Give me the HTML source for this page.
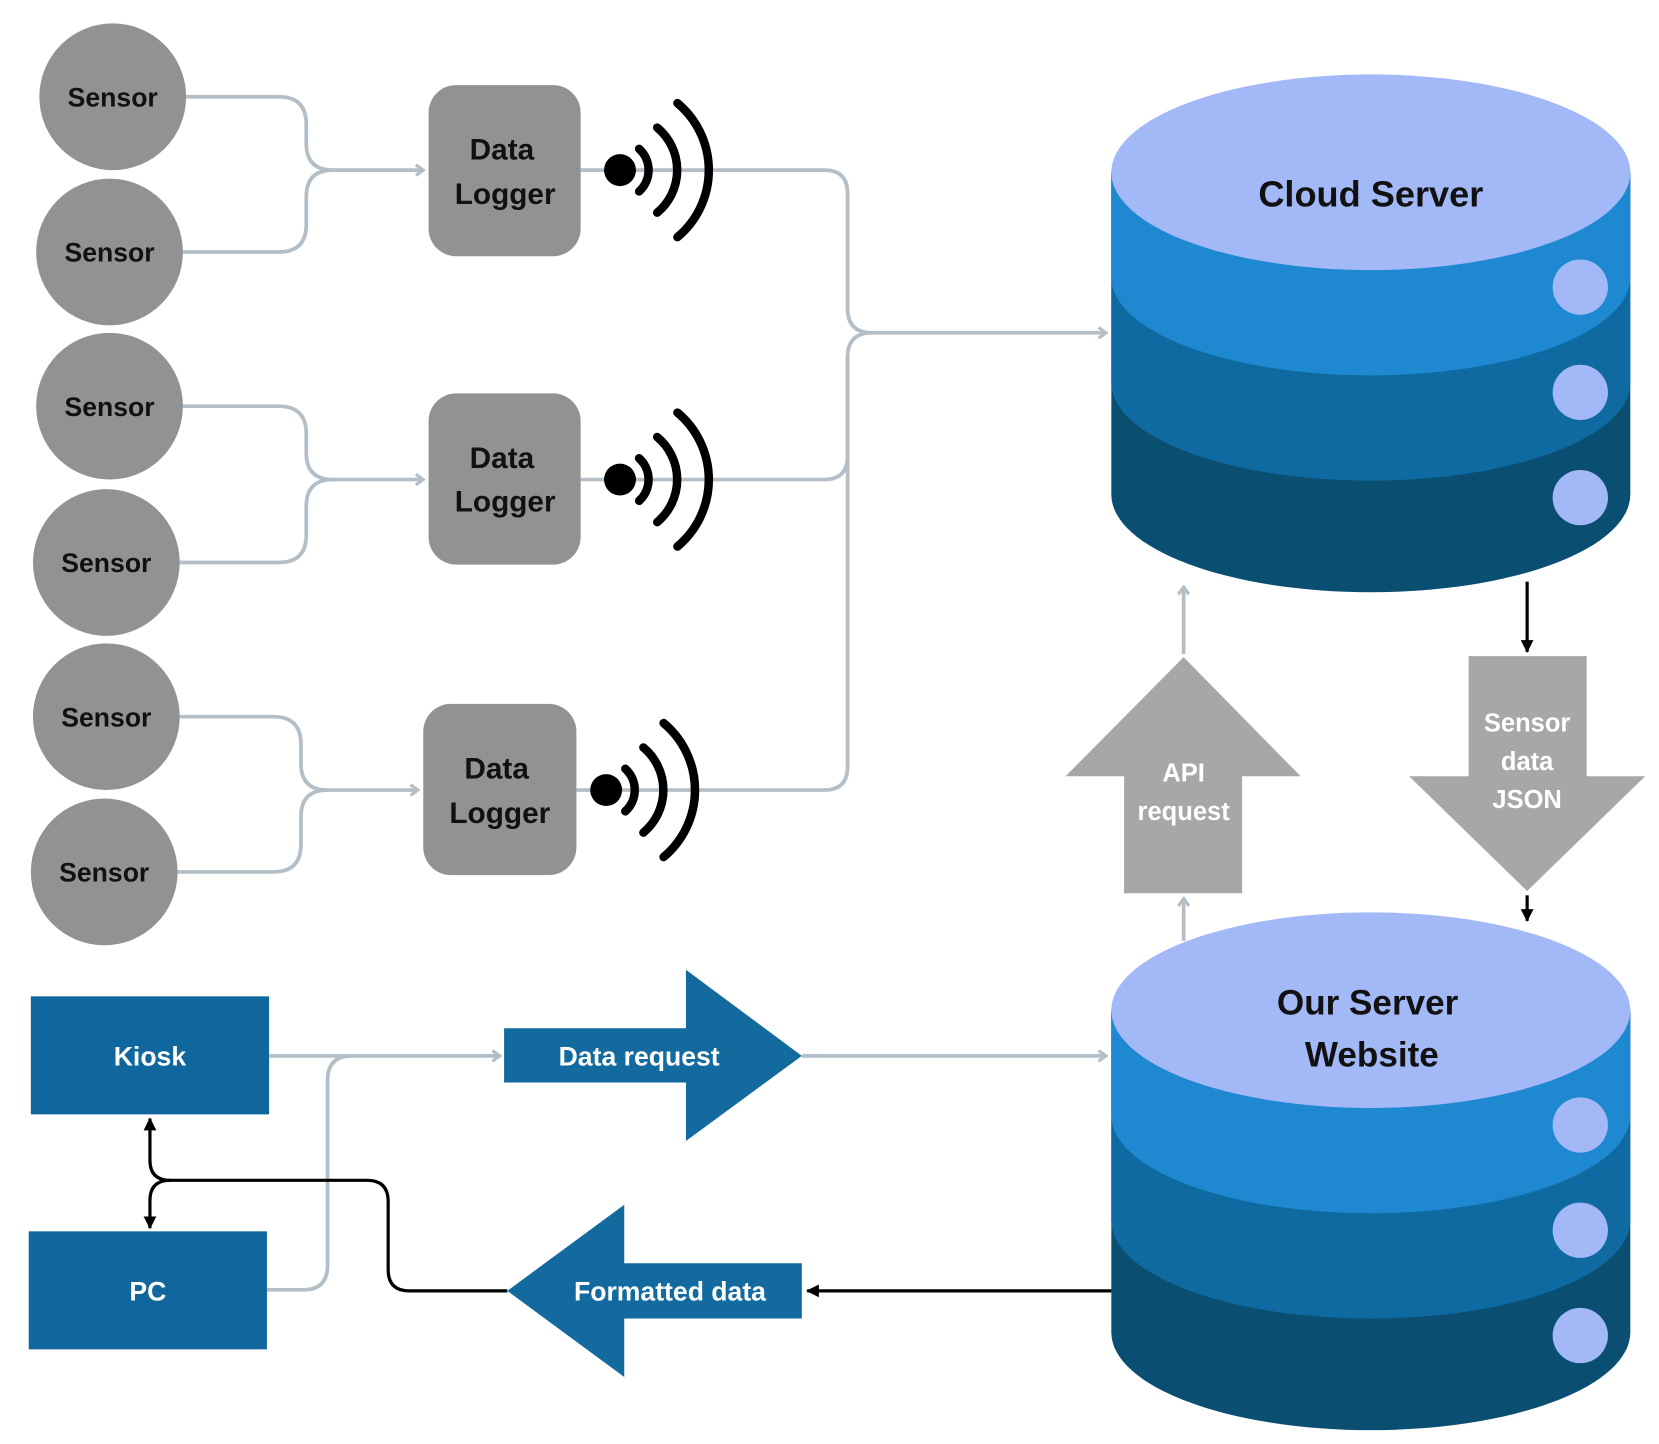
<!DOCTYPE html>
<html><head><meta charset="utf-8"><style>
html,body{margin:0;padding:0;background:#fff;}
svg{display:block;}
text{font-family:"Liberation Sans",sans-serif;font-weight:bold;}
</style></head><body>
<svg width="1659" height="1444" viewBox="0 0 1560 1358" preserveAspectRatio="none" xmlns="http://www.w3.org/2000/svg">
<defs>
<marker id="ag" markerWidth="10" markerHeight="12" refX="8" refY="6" orient="auto" markerUnits="userSpaceOnUse"><path d="M1,1 L8,6 L1,11" fill="none" stroke="#b3bec6" stroke-width="3"/></marker>
<marker id="ab" markerWidth="14" markerHeight="14" refX="11" refY="7" orient="auto" markerUnits="userSpaceOnUse"><path d="M0,1 L12,7 L0,13 Z" fill="#000"/></marker>
</defs>
<rect width="1560" height="1358" fill="#fff"/>
<g fill="none" stroke="#b3bec6" stroke-width="3.5">
<path d="M175,91 H262 Q288,91 288,117 V135 Q288,160 313,160 H398" marker-end="url(#ag)"/>
<path d="M172,237 H262 Q288,237 288,211 V185 Q288,160 313,160"/>
<path d="M172,382 H262 Q288,382 288,408 V426 Q288,451 313,451 H398" marker-end="url(#ag)"/>
<path d="M169,529 H262 Q288,529 288,503 V476 Q288,451 313,451"/>
<path d="M169,674 H257 Q283,674 283,700 V718 Q283,743 308,743 H393" marker-end="url(#ag)"/>
<path d="M167,820 H257 Q283,820 283,794 V768 Q283,743 308,743"/>
<path d="M546,160 H775 Q797,160 797,182 V290 Q797,313 820,313 H1040" marker-end="url(#ag)"/>
<path d="M546,451 H775 Q797,451 797,429 V336 Q797,313 820,313"/>
<path d="M542,743 H775 Q797,743 797,721 V336"/>
<path d="M1113,615 V552" marker-end="url(#ag)"/>
<path d="M1113,885 V845" marker-end="url(#ag)"/>
<path d="M253,993 H470" marker-end="url(#ag)"/>
<path d="M251,1213 H285 Q308,1213 308,1190 V1016 Q308,993 331,993"/>
<path d="M754,993 H1040" marker-end="url(#ag)"/>
</g>
<g fill="#929292">
<circle cx="106" cy="91" r="69"/><circle cx="103" cy="237" r="69"/>
<circle cx="103" cy="382" r="69"/><circle cx="100" cy="529" r="69"/>
<circle cx="100" cy="674" r="69"/><circle cx="98" cy="820" r="69"/>
<rect x="403" y="80" width="143" height="161" rx="26"/>
<rect x="403" y="370" width="143" height="161" rx="26"/>
<rect x="398" y="662" width="144" height="161" rx="26"/>
</g>
<g font-size="25" fill="#111" text-anchor="middle">
<text x="106" y="100">Sensor</text><text x="103" y="246">Sensor</text>
<text x="103" y="391">Sensor</text><text x="100" y="538">Sensor</text>
<text x="100" y="683">Sensor</text><text x="98" y="829">Sensor</text>
</g>
<g font-size="28" fill="#111" text-anchor="middle">
<text x="472" y="150">Data</text><text x="475" y="192">Logger</text>
<text x="472" y="440">Data</text><text x="475" y="481">Logger</text>
<text x="467" y="732">Data</text><text x="470" y="774">Logger</text>
</g>
<g fill="none" stroke="#000" stroke-width="8" stroke-linecap="round">
<g transform="translate(583,160)"><path d="M18,-20 A27,27 0 0 1 18,20"/><path d="M35,-40 A52,52 0 0 1 35,40"/><path d="M54,-63 A82,82 0 0 1 54,63"/></g>
<g transform="translate(583,451)"><path d="M18,-20 A27,27 0 0 1 18,20"/><path d="M35,-40 A52,52 0 0 1 35,40"/><path d="M54,-63 A82,82 0 0 1 54,63"/></g>
<g transform="translate(570,743)"><path d="M18,-20 A27,27 0 0 1 18,20"/><path d="M35,-40 A52,52 0 0 1 35,40"/><path d="M54,-63 A82,82 0 0 1 54,63"/></g>
</g>
<circle cx="583" cy="160" r="15"/><circle cx="583" cy="451" r="15"/><circle cx="570" cy="743" r="15"/>
<!-- cylinders -->
<g id="cyl1">
<rect x="1045" y="162" width="488" height="303" fill="#0a4f72"/><ellipse cx="1289" cy="465" rx="244" ry="92" fill="#0a4f72"/>
<rect x="1045" y="162" width="488" height="198" fill="#0e6aa0"/><ellipse cx="1289" cy="360" rx="244" ry="92" fill="#0e6aa0"/>
<rect x="1045" y="162" width="488" height="99" fill="#1e88d0"/><ellipse cx="1289" cy="261" rx="244" ry="92" fill="#1e88d0"/>
<ellipse cx="1289" cy="162" rx="244" ry="92" fill="#a3b8f6"/>
<circle cx="1486" cy="270" r="26" fill="#a3b8f6"/><circle cx="1486" cy="369" r="26" fill="#a3b8f6"/><circle cx="1486" cy="468" r="26" fill="#a3b8f6"/>
</g>
<use href="#cyl1" transform="translate(0,788)"/>
<text x="1289" y="194" font-size="34" fill="#111" text-anchor="middle">Cloud Server</text>
<text x="1286" y="954" font-size="33" fill="#111" text-anchor="middle">Our Server</text>
<text x="1290" y="1003" font-size="33" fill="#111" text-anchor="middle">Website</text>
<!-- API & JSON arrows -->
<path d="M1113,618 L1223,730 L1168,730 L1168,840 L1057,840 L1057,730 L1002,730 Z" fill="#a7a7a7"/>
<g font-size="24" fill="#fff" text-anchor="middle"><text x="1113" y="735">API</text><text x="1113" y="771">request</text></g>
<path d="M1381,617 L1492,617 L1492,730 L1547,730 L1436,838 L1325,730 L1381,730 Z" fill="#a7a7a7"/>
<g font-size="24" fill="#fff" text-anchor="middle"><text x="1436" y="688">Sensor</text><text x="1436" y="724">data</text><text x="1436" y="760">JSON</text></g>
<g stroke="#000" stroke-width="3" fill="none">
<path d="M1436,547 V613" marker-end="url(#ab)"/>
<path d="M1436,842 V866" marker-end="url(#ab)"/>
<path d="M1045,1214 H759" marker-end="url(#ab)"/>
<path d="M477,1214 H385 Q365,1214 365,1194 V1130 Q365,1110 345,1110 H160 Q141,1110 141,1091 V1052" marker-end="url(#ab)"/>
<path d="M160,1110 Q141,1110 141,1129 V1155" marker-end="url(#ab)"/>
</g>
<!-- bottom left -->
<rect x="29" y="937" width="224" height="111" fill="#10679e"/>
<rect x="27" y="1158" width="224" height="111" fill="#10679e"/>
<g font-size="25" fill="#fff" text-anchor="middle"><text x="141" y="1002">Kiosk</text><text x="139" y="1223">PC</text></g>
<path d="M474,967 L645,967 L645,912 L754,993 L645,1073 L645,1018 L474,1018 Z" fill="#136a9f"/>
<text x="601" y="1002" font-size="25" fill="#fff" text-anchor="middle">Data request</text>
<path d="M477,1214 L587,1133 L587,1188 L754,1188 L754,1240 L587,1240 L587,1295 Z" fill="#136a9f"/>
<text x="630" y="1223" font-size="25" fill="#fff" text-anchor="middle">Formatted data</text>
</svg>
</body></html>
